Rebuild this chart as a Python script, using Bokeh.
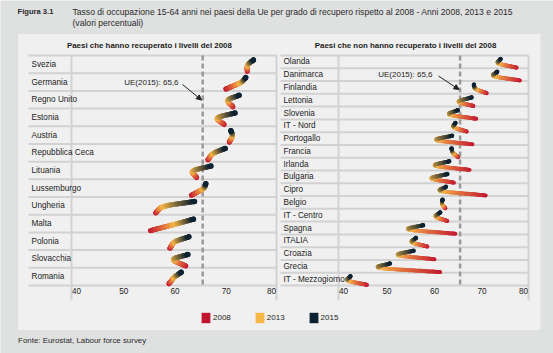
import numpy as np
from bokeh.plotting import figure
from bokeh.models import Range1d, Arrow, NormalHead, Legend, LegendItem
from bokeh.core.properties import value
from bokeh.embed import file_html
from bokeh.resources import INLINE

# ---------------- data ----------------
left_countries = ["Svezia", "Germania", "Regno Unito", "Estonia", "Austria",
                  "Repubblica Ceca", "Lituania", "Lussemburgo", "Ungheria",
                  "Malta", "Polonia", "Slovacchia", "Romania"]
left_2008 = [74.3, 70.1, 71.5, 69.8, 70.8, 66.6, 64.4, 63.4, 56.4, 55.4, 59.2, 62.3, 59.0]
left_2013 = [74.4, 73.0, 70.5, 68.5, 71.4, 67.7, 63.7, 65.7, 58.1, 60.3, 60.2, 59.9, 60.1]
left_2015 = [75.5, 74.0, 72.7, 71.9, 71.1, 70.0, 67.2, 66.2, 64.0, 63.8, 62.9, 62.7, 61.4]

right_countries = ["Olanda", "Danimarca", "Finlandia", "Lettonia", "Slovenia",
                   "IT - Nord", "Portogallo", "Francia", "Irlanda", "Bulgaria",
                   "Cipro", "Belgio", "IT - Centro", "Spagna", "ITALIA",
                   "Croazia", "Grecia", "IT - Mezzogiorno"]
right_2008 = [77.5, 78.2, 71.2, 68.4, 69.0, 67.0, 68.2, 65.2, 67.6, 64.3,
              71.0, 62.5, 62.9, 64.6, 58.7, 60.2, 61.4, 46.0]
right_2013 = [73.7, 72.8, 68.9, 65.3, 63.4, 64.3, 60.7, 64.1, 60.4, 59.6,
              61.8, 61.8, 60.5, 54.9, 55.5, 52.6, 48.8, 42.0]
right_2015 = [74.1, 73.4, 68.5, 68.0, 65.1, 64.6, 63.9, 63.8, 63.3, 62.9,
              62.6, 61.9, 61.4, 57.8, 56.3, 55.8, 50.8, 42.5]

years = ["2008", "2013", "2015"]
tick_values = [40, 50, 60, 70, 80]
tick_labels = ["40", "50", "60", "70", "80"]
eu_2015 = 65.6
eu_label = "UE(2015): 65,6"

# ---------------- style ----------------
W, H = 553, 353
FONT = "'Liberation Sans', Arial, sans-serif"
RED, YEL, DARK = "#c3142f", "#f6b748", "#0c2131"
OUTER, INNER, RULE = "#dfe0e0", "#f0f0f0", "#d2d2d2"
TXT = "#1c1c1c"
TOP, BOT = 55, 285
FS_ROW = "8.2px"


def Y(ytop):
    return H - ytop


p = figure(width=W, height=H, x_range=Range1d(0, W), y_range=Range1d(0, H),
           output_backend="svg", toolbar_location=None,
           x_axis_location=None, y_axis_location=None, min_border=0,
           outline_line_color=None, background_fill_color=OUTER,
           border_fill_color=OUTER)
p.xgrid.visible = False
p.ygrid.visible = False


def xr_for(px40, px80):
    s = (px80 - px40) / 40.0
    return Range1d(40 - px40 / s, 40 + (W - px40) / s), s


def yr_for(n):
    h = (BOT - TOP) / n
    return Range1d(n - 0.5 - (H - TOP) / h, n - 0.5 + TOP / h), h


lx, ls = xr_for(71, 276)
rx, rs = xr_for(338, 528)
ly, lh = yr_for(len(left_countries))
ry, rh = yr_for(len(right_countries))
p.extra_x_ranges = {"lx": lx, "rx": rx}
p.extra_y_ranges = {"ly": ly, "ry": ry}

# panel background
p.quad(left=[17.6], right=[540], top=[Y(33.5)], bottom=[Y(329.5)],
       fill_color=INNER, line_color=None)


def hex2rgb(c):
    c = c.lstrip("#")
    return np.array([int(c[i:i + 2], 16) for i in (0, 2, 4)], dtype=float)


def mix(c1, c2, t):
    a, b = hex2rgb(c1), hex2rgb(c2)
    r = a + (b - a) * t
    return "#%02x%02x%02x" % tuple(int(round(v)) for v in r)


def hermite(p0, p1, m0, m1, t):
    h00 = (1 + 2 * t) * (1 - t) ** 2
    h10 = t * (1 - t) ** 2
    h01 = t ** 2 * (3 - 2 * t)
    h11 = t ** 2 * (t - 1)
    return h00 * p0 + h10 * m0 + h01 * p1 + h11 * m1


def panel(names, v08, v13, v15, xname, yname, s, h, px40, label_px, lw,
          dys, title, title_x, ann_row, ann_right_px, arr):
    n = len(names)
    rows = [n - 1 - i for i in range(n)]
    kw = dict(x_range_name=xname, y_range_name=yname)
    xd = lambda px: 40 + (px - px40) / s
    rd = lambda ytop: n - 0.5 - (ytop - TOP) / h

    # row rules
    ys = [r + 0.5 for r in rows] + [-0.5]
    p.segment(x0=[xd(label_px - 3)] * len(ys), x1=[80] * len(ys), y0=ys, y1=ys,
              line_color=RULE, line_width=2, **kw)
    # plot borders at 40 and 80
    p.segment(x0=[40, 80], x1=[40, 80], y0=[n - 0.5] * 2, y1=[rd(300)] * 2,
              line_color=RULE, line_width=2, **kw)
    # EU reference
    p.segment(x0=[eu_2015], x1=[eu_2015], y0=[n - 0.5], y1=[-0.5],
              line_color="#9a9a9a", line_width=2.5, line_dash="5 3", **kw)

    # curves with colour gradient 2008 -> 2013 -> 2015
    x0s, y0s, x1s, y1s, cols = [], [], [], [], []
    k = 24
    t = np.linspace(0, 1, k + 1)
    for r, a, b, c in zip(rows, v08, v13, v15):
        P0 = np.array([a, r + dys[0]])
        P1 = np.array([b, r + dys[1]])
        P2 = np.array([c, r + dys[2]])
        m0 = P1 - P0
        m1 = (P2 - P0) / 2.0
        m2 = P2 - P1
        segA = np.array([hermite(P0, P1, m0, m1, tt) for tt in t])
        segB = np.array([hermite(P1, P2, m1, m2, tt) for tt in t])
        for seg, ca, cb in ((segA, RED, YEL), (segB, YEL, DARK)):
            for j in range(k):
                x0s.append(seg[j, 0]); y0s.append(seg[j, 1])
                x1s.append(seg[j + 1, 0]); y1s.append(seg[j + 1, 1])
                cols.append(mix(ca, cb, (t[j] + t[j + 1]) / 2))
    p.segment(x0=x0s, y0=y0s, x1=x1s, y1=y1s, line_color=cols,
              line_width=lw, line_cap="round", **kw)
    p.scatter(x=v15, y=[r + dys[2] for r in rows], size=lw + 0.5,
              color=DARK, line_color=None, **kw)

    # row labels
    p.text(x=[xd(label_px)] * n, y=rows, text=names, text_align="left",
           text_baseline="middle", text_font=value(FONT),
           text_font_size=value(FS_ROW), text_color=TXT, **kw)

    # tick labels
    ty = rd(290.5)
    for sl, al, dx in ((slice(0, 1), "left", 0.1), (slice(1, 4), "center", 0.2),
                       (slice(4, 5), "right", -0.1)):
        tv = tick_values[sl]
        p.text(x=[v + dx for v in tv], y=[ty] * len(tv), text=tick_labels[sl],
               text_align=al, text_baseline="middle", text_font=value(FONT),
               text_font_size=value(FS_ROW), text_color=TXT, **kw)

    # panel title
    p.text(x=[title_x], y=[Y(45.3)], text=[title], text_align="center",
           text_baseline="middle", text_font=value(FONT),
           text_font_size=value("7.9px"), text_font_style="bold", text_color=TXT)

    # EU annotation
    p.text(x=[xd(ann_right_px)], y=[ann_row], text=[eu_label], text_align="right",
           text_baseline="middle", text_font=value(FONT),
           text_font_size=value("8px"), text_color=TXT, **kw)
    (sx, sy), (ex, ey) = arr
    p.add_layout(Arrow(end=NormalHead(size=5, fill_color="#222222", line_color="#222222"),
                       x_start=xd(sx), y_start=rd(sy), x_end=xd(ex), y_end=rd(ey),
                       line_color="#222222", line_width=1, **kw))


panel(left_countries, left_2008, left_2013, left_2015, "lx", "ly", ls, lh, 71, 31, 5,
      (-0.4, -0.03, 0.25), "Paesi che  hanno recuperato i livelli del 2008", 150,
      len(left_countries) - 1 - 1, 178, ((182, 84), (201, 99.5)))
panel(right_countries, right_2008, right_2013, right_2015, "rx", "ry", rs, rh, 338, 283, 4,
      (-0.45, -0.12, 0.22), "Paesi che non hanno recuperato i livelli del 2008", 405,
      len(right_countries) - 1 - 1, 432, ((438, 75.5), (458.5, 89)))

# titles and source
p.text(x=[17], y=[Y(11)], text=["Figura 3.1"], text_baseline="middle",
       text_font=value(FONT), text_font_size=value("7.6px"),
       text_font_style="bold", text_color="#2a2a2a")
p.text(x=[72, 72], y=[Y(11), Y(22.5)],
       text=["Tasso di occupazione 15-64 anni nei paesi della Ue per grado di recupero rispetto al 2008 - Anni 2008, 2013 e 2015",
             "(valori percentuali)"],
       text_baseline="middle", text_font=value(FONT),
       text_font_size=value("8.6px"), text_color="#2a2a2a")
p.text(x=[17.6], y=[Y(339.5)], text=["Fonte: Eurostat, Labour force survey"],
       text_baseline="middle", text_font=value(FONT),
       text_font_size=value("7.9px"), text_color="#2a2a2a")

# legend
items = []
for yr_, col in zip(years, (RED, YEL, DARK)):
    rr = p.quad(left=[np.nan], right=[np.nan], top=[np.nan], bottom=[np.nan],
                fill_color=col, line_color=None)
    items.append(LegendItem(label=yr_, renderers=[rr]))
leg = Legend(items=items, orientation="horizontal", location=(200, 29),
             glyph_width=11, glyph_height=13, label_standoff=2, spacing=23,
             label_height=12, label_width=10, padding=0, margin=0,
             border_line_color=None, background_fill_alpha=0,
             label_text_font=FONT, label_text_font_size="8px",
             label_text_color=TXT)
p.add_layout(leg, "center")

open("out.html", "w").write(file_html(p, INLINE))
